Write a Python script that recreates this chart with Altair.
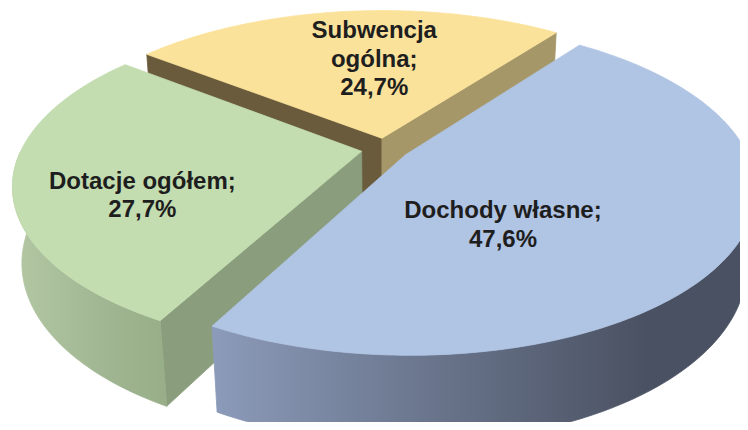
import math
import altair as alt
import pandas as pd

# ---------------- data ----------------
categories = ["Subwencja ogólna", "Dochody własne", "Dotacje ogółem"]
shares = [24.7, 47.6, 27.7]
label_texts = ["Subwencja\nogólna;\n24,7%", "Dochody własne;\n47,6%", "Dotacje ogółem;\n27,7%"]

# ---------------- style ----------------
TOP_COL = ["#FBE29B", "#B0C4E3", "#C3DDB0"]
START_FACE_COL = ["#695B3B", "#6F7B93", "#8A9E7E"]
END_FACE_COL = ["#A59767", "#6F7B93", "#8A9E7E"]
WALL_STOPS = [
    [("#A39566", 0.0), ("#8A7D52", 1.0)],
    [("#8C9BBA", 0.0), ("#6E7A92", 0.35), ("#4A5162", 0.8), ("#4A5162", 1.0)],
    [("#B3C7A3", 0.0), ("#A0B692", 0.6), ("#97AE88", 1.0)],
]
LABEL_FRAC = [0.555, 0.646, 0.38]
LABEL_RHO = [0.571, 0.48, 0.661]
FONT_SIZE = 24
LINE_H = 28.5

# 3D pie projection settings
CX, CY = 385.0, 149.0
SCALE_X = 340.0
SCALE_Y = 350.0
ELEV = math.radians(26.7)
DIST = 4.44
THICK = 0.245
EXPLODE = 0.07
START_DEG = -52.0


def proj(X, Y, Z):
    yu = Y * math.cos(ELEV) + Z * math.sin(ELEV)
    dp = Z * math.cos(ELEV) - Y * math.sin(ELEV)
    s = DIST / (DIST + dp)
    return CX + SCALE_X * X * s, CY - SCALE_Y * yu * s


def arc_range(a1, a2, step=1.0):
    n = max(2, int(abs(a2 - a1) / step) + 1)
    return [a1 + (a2 - a1) * k / (n - 1) for k in range(n)]


total = sum(shares)
angles = []
cur = START_DEG
for v in shares:
    a1 = cur
    a2 = cur + 360.0 * v / total
    angles.append((a1, a2))
    cur = a2

xs = alt.Scale(domain=[8, 740], nice=False, zero=False)
ys = alt.Scale(domain=[8, 422], nice=False, zero=False, reverse=True)


def poly_layer(pts, fill):
    df = pd.DataFrame({"x": [p[0] for p in pts], "y": [p[1] for p in pts], "i": list(range(len(pts)))})
    return alt.Chart(df).mark_line(
        fill=fill, stroke=fill, strokeWidth=0.8, interpolate="linear-closed", clip=True
    ).encode(
        x=alt.X("x:Q", scale=xs, axis=None),
        y=alt.Y("y:Q", scale=ys, axis=None),
        order=alt.Order("i:Q"),
    )


def gradient(stops):
    return {
        "gradient": "linear", "x1": 0, "y1": 0, "x2": 1, "y2": 0,
        "stops": [{"offset": o, "color": c} for c, o in stops],
    }


layers_by_slice = {}
label_rows = []
for k, (a1, a2) in enumerate(angles):
    m = math.radians((a1 + a2) / 2)
    ox, oz = EXPLODE * math.sin(m), EXPLODE * math.cos(m)

    def rim(a, Y, ox=ox, oz=oz):
        r = math.radians(a)
        return proj(ox + math.sin(r), Y, oz + math.cos(r))

    def apex(Y, ox=ox, oz=oz):
        return proj(ox, Y, oz)

    lay = []
    # radial faces facing the viewer
    if math.cos(math.radians(a1 - 90)) < 0:
        lay.append(poly_layer([apex(0), rim(a1, 0), rim(a1, -THICK), apex(-THICK)], START_FACE_COL[k]))
    if math.cos(math.radians(a2 + 90)) < 0:
        lay.append(poly_layer([apex(0), rim(a2, 0), rim(a2, -THICK), apex(-THICK)], END_FACE_COL[k]))
    # outer wall (front half)
    lo, hi = max(a1, 90.0), min(a2, 270.0)
    if hi > lo:
        top = [rim(a, 0) for a in arc_range(lo, hi)]
        bot = [rim(a, -THICK) for a in arc_range(hi, lo)]
        lay.append(poly_layer(top + bot, gradient(WALL_STOPS[k])))
    # top face
    lay.append(poly_layer([apex(0)] + [rim(a, 0) for a in arc_range(a1, a2)], TOP_COL[k]))
    layers_by_slice[k] = lay

    la = math.radians(a1 + (a2 - a1) * LABEL_FRAC[k])
    lx, ly = proj(ox + LABEL_RHO[k] * math.sin(la), 0, oz + LABEL_RHO[k] * math.cos(la))
    nlines = label_texts[k].count("\n") + 1
    label_rows.append({"x": lx, "y": ly - (nlines - 1) * LINE_H / 2, "text": label_texts[k], "cat": categories[k]})

# painter's order: back slice first
order = sorted(range(len(angles)), key=lambda k: math.cos(math.radians(sum(angles[k]) / 2)), reverse=True)
layers = []
for k in order:
    layers.extend(layers_by_slice[k])

labels_df = pd.DataFrame(label_rows)
text = alt.Chart(labels_df).mark_text(
    font="Liberation Sans", fontSize=FONT_SIZE, fontWeight="bold", color="#1E1E1E",
    lineBreak="\n", lineHeight=LINE_H, align="center", baseline="middle",
).encode(
    x=alt.X("x:Q", scale=xs, axis=None),
    y=alt.Y("y:Q", scale=ys, axis=None),
    text="text:N",
)
layers.append(text)

chart = alt.layer(*layers).properties(
    width=732, height=414, padding=0, autosize=alt.AutoSizeParams(type="none")
).configure_view(strokeWidth=0)

chart.save("out.html", embed_options={"renderer": "svg", "actions": False})
